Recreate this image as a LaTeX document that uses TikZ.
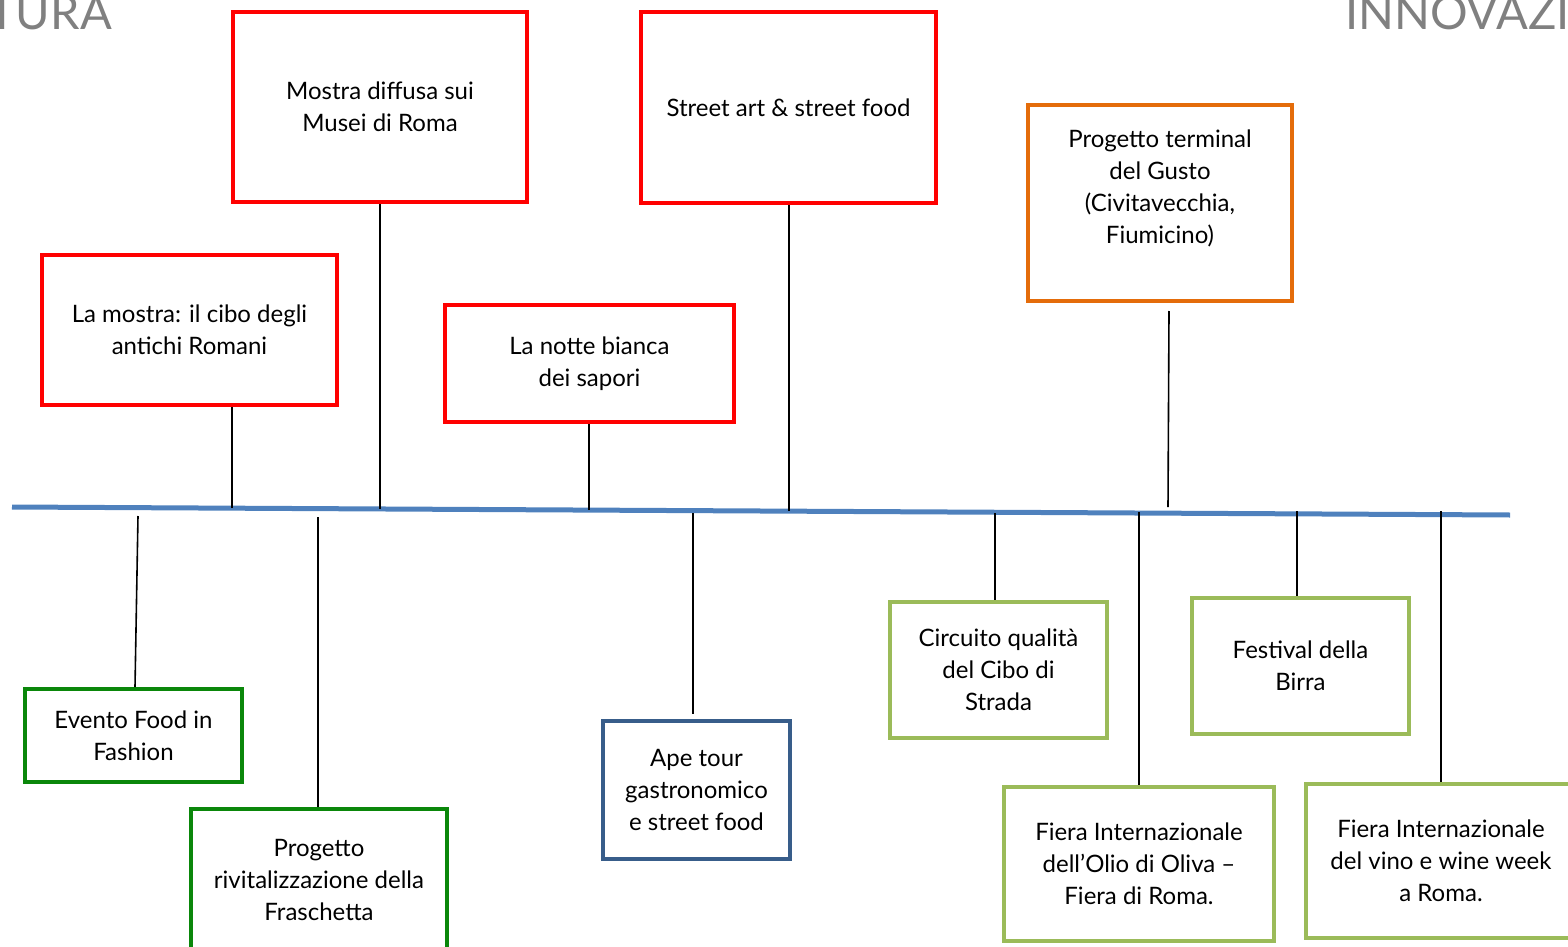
\documentclass[tikz,border=0pt]{standalone}
\usepackage{fontspec}
\setmainfont{Lato}
\usepackage{xcolor}
\usetikzlibrary{positioning, calc}
\definecolor{redline}{RGB}{255, 0, 0}
\definecolor{orangeline}{RGB}{228, 108, 10}
\definecolor{darkgreenline}{RGB}{10, 135, 10}
\definecolor{lightgreenline}{RGB}{155, 187, 89}
\definecolor{blueline}{RGB}{56, 93, 138}
\definecolor{axiscolor}{RGB}{79, 129, 189}
\definecolor{titlegray}{RGB}{128, 128, 128}

\begin{document}
\begin{tikzpicture}[
        x=1pt, y=-1pt,
        eventbox/.style={rectangle, draw, line width=4pt, fill=white, align=center, inner sep=0pt, font=\fontsize{24}{32}\selectfont},
        redbox/.style={eventbox, draw=redline},
        orangebox/.style={eventbox, draw=orangeline},
        greenbox/.style={eventbox, draw=darkgreenline},
        lightbox/.style={eventbox, draw=lightgreenline},
        bluebox/.style={eventbox, draw=blueline},
        link/.style={black, line width=1.6pt},
        axis/.style={axiscolor, line width=5pt},
        heading/.style={titlegray, inner sep=0pt, font=\fontsize{47}{47}\selectfont}
    ]
        \useasboundingbox (0,0) rectangle (1568,947);
        \clip (0,0) rectangle (1568,947);

        % Section titles (cut by the page)
        \node (cultura) [heading, anchor=base west] at (-12,30) {TURA};
        \node (innovazione) [heading, anchor=base west] at (1345,30) {INNOVAZI};

        % Time line
        \coordinate (axL) at (12,507);
        \coordinate (axR) at (1510,515);
        \draw [axis] (axL) -- (axR);

        % Events above the line
        \node (musei) [redbox, minimum width=294, minimum height=190] at (380,107) {Mostra diffusa sui\\Musei di Roma};
        \node (street) [redbox, minimum width=295, minimum height=191] at (788.5,107.5) {Street art \& street food};
        \node (terminal) [orangebox, minimum width=264, minimum height=196] at (1160,203) {Progetto terminal\\del Gusto\\(Civitavecchia,\\Fiumicino)\\\mbox{}};
        \node (mostra) [redbox, minimum width=295, minimum height=150] at (189.5,330) {La mostra: il cibo degli\\antichi Romani};
        \node (notte) [redbox, minimum width=289, minimum height=117] at (589.5,363.5) {La notte bianca\\dei sapori};

        % Events below the line
        \node (evento) [greenbox, minimum width=217, minimum height=93] at (133.5,735.5) {Evento Food in\\Fashion};
        \node (fraschetta) [greenbox, minimum width=256, minimum height=142] at (319,880) {Progetto\\rivitalizzazione della\\Fraschetta};
        \node (ape) [bluebox, minimum width=187, minimum height=138] at (696.5,790) {Ape tour\\gastronomico\\e street food};
        \node (circuito) [lightbox, minimum width=217, minimum height=136] at (998.5,670) {Circuito qualità\\del Cibo di\\Strada};
        \node (birra) [lightbox, minimum width=217, minimum height=136] at (1300.5,666) {Festival della\\Birra};
        \node (olio) [lightbox, minimum width=270, minimum height=154] at (1139,864) {Fiera Internazionale\\dell’Olio di Oliva –\\Fiera di Roma.};
        \node (vino) [lightbox, minimum width=270, minimum height=154] at (1441,861) {Fiera Internazionale\\del vino e wine week\\a Roma.};

        % Points on the line
        \coordinate (ax-mostra) at (232,508);
        \coordinate (ax-musei) at (380,509);
        \coordinate (ax-notte) at (589,510);
        \coordinate (ax-street) at (789,511);
        \coordinate (ax-terminal) at (1168,507);
        \coordinate (ax-evento) at (138,516);
        \coordinate (ax-fraschetta) at (318,517);
        \coordinate (ax-ape) at (693,513);
        \coordinate (ax-circuito) at (995,513);
        \coordinate (ax-olio) at (1139,512);
        \coordinate (ax-birra) at (1297,511);
        \coordinate (ax-vino) at (1441,511);
        \coordinate (terminal-foot) at (1169,311);

        % Links
        \draw [link] (mostra.south -| ax-mostra) -- (ax-mostra);
        \draw [link] (musei.south -| ax-musei) -- (ax-musei);
        \draw [link] (notte.south -| ax-notte) -- (ax-notte);
        \draw [link] (street.south -| ax-street) -- (ax-street);
        \draw [link] (terminal-foot) -- (ax-terminal);
        \draw [link] (ax-evento) -- (135,0 |- evento.north);
        \draw [link] (ax-fraschetta) -- (fraschetta.north -| ax-fraschetta);
        \draw [link] (ax-ape) -- (693,714);
        \draw [link] (ax-circuito) -- (circuito.north -| ax-circuito);
        \draw [link] (ax-olio) -- (olio.north -| ax-olio);
        \draw [link] (ax-birra) -- (birra.north -| ax-birra);
        \draw [link] (ax-vino) -- (vino.north -| ax-vino);
    \end{tikzpicture}
\end{document}
